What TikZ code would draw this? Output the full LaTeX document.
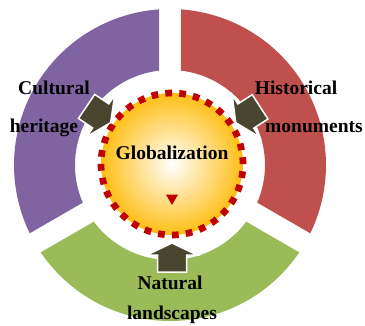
\documentclass[tikz,border=0pt]{standalone}
\usepackage{fontspec}
\setmainfont{Liberation Serif}
\definecolor{segpurple}{RGB}{128,100,162}
\definecolor{segred}{RGB}{192,80,77}
\definecolor{seggreen}{RGB}{155,187,89}
\definecolor{arrowdark}{RGB}{74,69,46}
\definecolor{globeorange}{RGB}{255,190,20}
\definecolor{dashred}{RGB}{192,0,0}
\usetikzlibrary{shapes.geometric}
\tikzset{
  lbl/.style={font=\fontsize{19.5}{22}\selectfont\bfseries,inner sep=0pt},
  globe/.style={circle,minimum size=142pt,inner sep=0pt,inner color=white,outer color=globeorange,
    draw=dashred,line width=6.7pt,dash pattern=on 6.7pt off 7.24pt},
  arrowbody/.style={fill=arrowdark,draw=white,line width=1.5pt,line join=miter},
  inarrow/.pic={\filldraw[arrowbody] (0,0) -- (-12,25) -- (-12,14.5) -- (-29,14.5) -- (-29,-14.5) -- (-12,-14.5) -- (-12,-25) -- cycle;}
}
\def\Rout{156}
\def\Rin{95}
\def\gaphalf{11}
\begin{document}
\begin{tikzpicture}[x=1pt,y=1pt]
\useasboundingbox (0,0) rectangle (365,325);
% ring of three segments
\begin{scope}[shift={(170,160)}]
\pgfmathsetmacro\dout{asin(\gaphalf/\Rout)}
\pgfmathsetmacro\din{asin(\gaphalf/\Rin)}
\foreach \col/\ga in {segpurple/90,seggreen/210,segred/330}{
  \pgfmathsetmacro\gb{\ga+120}
  \fill[\col] ({\ga+\dout}:\Rout) arc[start angle={\ga+\dout},end angle={\gb-\dout},radius=\Rout]
    -- ({\gb-\din}:\Rin) arc[start angle={\gb-\din},end angle={\ga+\din},radius=\Rin] -- cycle;
}
\end{scope}
% centre
\node[globe] (G) at (172,161) {};
\node[lbl] (glob) at (172,172) {Globalization};
\node[regular polygon,regular polygon sides=3,shape border rotate=180,fill=dashred,
  minimum size=14pt,inner sep=0pt] (tri) at (172,127) {};
% arrows
\path (G) ++(146:74) pic[rotate=-34] {inarrow};
\path (G) ++(33:76) pic[rotate=213] {inarrow};
\path (G) ++(270:79) pic[rotate=90] {inarrow};
% labels
\node[lbl] (cult1) at (54,237) {Cultural};
\node[lbl] (cult2) at (44,197) {heritage};
\node[lbl] (hist1) at (296,237) {Historical};
\node[lbl] (hist2) at (314,198) {monuments};
\node[lbl] (nat1) at (170,42) {Natural};
\node[lbl] (nat2) at (172,10) {landscapes};
\end{tikzpicture}
\end{document}
